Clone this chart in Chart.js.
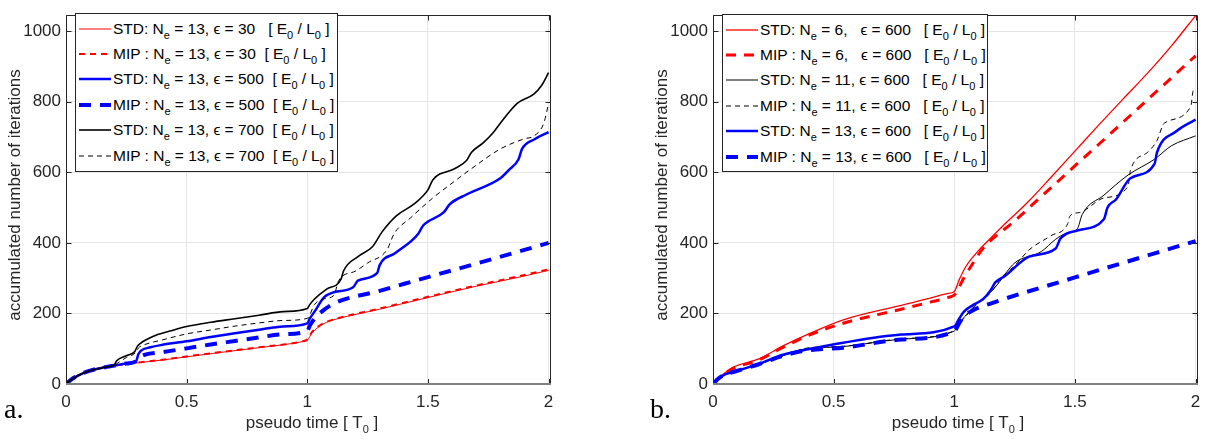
<!DOCTYPE html>
<html>
<head>
<meta charset="utf-8">
<script src="https://cdn.jsdelivr.net/npm/chart.js@4.4.0/dist/chart.umd.min.js"></script>
<style>
  html, body { margin: 0; padding: 0; background: #fff; overflow: hidden; }
  body { width: 1212px; height: 440px; position: relative; font-family: "Liberation Sans", Arial, sans-serif; color: #262626; }
  canvas { position: absolute; top: 0; }
  #cA { left: 0; }
  #cB { left: 647px; }
  .legend { position: absolute; background: #fff; border: 1px solid #262626; box-sizing: border-box; padding-top: 2px; font-size: 15.5px; color: #000; }
  .row { height: 25.4px; display: flex; align-items: center; white-space: pre; }
  .row svg { flex: none; margin: 0 2px 0 3px; }
  sub { font-size: 11px; vertical-align: -5px; line-height: 0; }
  .xtitle { position: absolute; top: 413px; width: 300px; text-align: center; font-size: 17px; line-height: 20px; white-space: pre; }
  .ytitle { position: absolute; top: 185px; width: 400px; height: 20px; line-height: 20px; text-align: center; font-size: 17px; transform: rotate(-90deg); }
  .tag { position: absolute; top: 393px; font-family: "Liberation Serif", "DejaVu Serif", serif; font-size: 28px; color: #000; }
</style>
</head>
<body>
<canvas id="cA" width="606" height="440"></canvas>
<canvas id="cB" width="565" height="440"></canvas>
<script>
// ---- panel a: N_e = 13, varying epsilon ----
const aRedStdT = [0, 0.02, 0.05, 0.1, 0.15, 0.2, 0.4, 0.6, 0.8, 0.98, 1.0, 1.02, 1.05, 1.08, 1.12, 1.3, 1.5, 1.7, 1.9, 2.0];
const aRedStdV = [0, 12, 24, 38, 46, 52, 68, 86, 103, 120, 124, 145, 163, 175, 184, 212, 245, 277, 306, 322];
const aRedMipT = [0, 0.02, 0.05, 0.1, 0.15, 0.2, 0.4, 0.6, 0.8, 0.98, 1.0, 1.02, 1.05, 1.08, 1.12, 1.3, 1.5, 1.7, 1.9, 2.0];
const aRedMipV = [0, 12, 24, 38, 46, 52, 69, 87, 104, 121, 126, 148, 165, 176, 185, 214, 247, 279, 309, 325];
const aBlueStdT = [0, 0.02, 0.05, 0.1, 0.15, 0.2, 0.25, 0.29, 0.3, 0.31, 0.35, 0.4, 0.5, 0.6, 0.7, 0.8, 0.9, 1.0, 1.01, 1.03, 1.07, 1.11, 1.19, 1.21, 1.29, 1.30, 1.365, 1.46, 1.48, 1.565, 1.59, 1.66, 1.80, 1.835, 1.875, 1.89, 1.94, 2.0];
const aBlueStdV = [0, 12, 24, 38, 46, 52, 58, 64, 84, 94, 104, 111, 121, 133, 144, 154, 163, 172, 185, 205, 246, 260, 274, 293, 315, 337, 371, 426, 449, 486, 509, 537, 583, 606, 636, 666, 693, 714];
const aBlueMipT = [0, 0.02, 0.05, 0.1, 0.15, 0.2, 0.25, 0.29, 0.3, 0.31, 0.4, 0.5, 0.6, 0.7, 0.8, 0.9, 1.0, 1.01, 1.03, 1.06, 1.11, 1.3, 1.5, 1.7, 1.9, 2.0];
const aBlueMipV = [0, 12, 24, 38, 46, 52, 58, 64, 72, 78, 90, 101, 112, 122, 132, 141, 150, 165, 185, 205, 228, 264, 303, 341, 380, 400];
const aBlackStdT = [0, 0.02, 0.05, 0.1, 0.15, 0.19, 0.2, 0.21, 0.25, 0.285, 0.295, 0.31, 0.34, 0.38, 0.43, 0.5, 0.6, 0.7, 0.8, 0.9, 1.0, 1.01, 1.03, 1.08, 1.14, 1.15, 1.21, 1.27, 1.31, 1.37, 1.44, 1.50, 1.52, 1.61, 1.66, 1.68, 1.73, 1.77, 1.80, 1.87, 1.94, 1.97, 2.0];
const aBlackStdV = [0, 12, 24, 38, 46, 51, 54, 66, 80, 92, 106, 116, 128, 140, 150, 163, 175, 185, 195, 205, 214, 225, 241, 269, 297, 320, 361, 389, 431, 477, 509, 550, 578, 610, 633, 656, 684, 712, 739, 795, 822, 845, 882];
const aBlackMipT = [0, 0.02, 0.05, 0.1, 0.15, 0.19, 0.2, 0.22, 0.25, 0.29, 0.3, 0.32, 0.4, 0.5, 0.6, 0.7, 0.8, 0.9, 1.0, 1.03, 1.06, 1.11, 1.13, 1.2, 1.25, 1.33, 1.36, 1.43, 1.52, 1.59, 1.68, 1.80, 1.9, 1.94, 1.98, 2.0];
const aBlackMipV = [0, 12, 24, 38, 46, 51, 53, 62, 75, 90, 102, 110, 125, 142, 153, 164, 173, 180, 186, 225, 240, 251, 293, 320, 343, 380, 426, 472, 527, 564, 610, 666, 695, 703, 739, 795];

// ---- panel b: epsilon = 600, varying N_e ----
const bRedStdT = [0, 0.02, 0.05, 0.084, 0.19, 0.29, 0.39, 0.54, 0.78, 0.9, 0.97, 1.0, 1.02, 1.05, 1.1, 1.15, 1.2, 1.3, 1.4, 1.5, 1.6, 1.7, 1.8, 1.9, 2.0];
const bRedStdV = [0, 15, 32, 48, 71, 108, 140, 182, 223, 243, 256, 262, 295, 335, 378, 413, 447, 512, 585, 660, 735, 808, 880, 958, 1044];
const bRedMipT = [0, 0.02, 0.05, 0.084, 0.19, 0.29, 0.39, 0.54, 0.78, 0.9, 0.98, 1.0, 1.02, 1.04, 1.08, 1.12, 1.25, 1.4, 1.6, 1.8, 2.0];
const bRedMipV = [0, 14, 30, 44, 68, 104, 136, 172, 212, 232, 246, 252, 275, 301, 345, 385, 462, 556, 680, 805, 930];
const bBlackStdT = [0, 0.02, 0.05, 0.084, 0.19, 0.29, 0.36, 0.4, 0.54, 0.78, 1.0, 1.02, 1.05, 1.1, 1.15, 1.18, 1.25, 1.36, 1.42, 1.46, 1.51, 1.53, 1.62, 1.72, 1.83, 1.9, 2.0];
const bBlackStdV = [0, 14, 27, 34, 56, 80, 96, 101, 106, 127, 150, 172, 196, 232, 260, 283, 343, 375, 410, 426, 440, 480, 535, 592, 637, 675, 703];
const bBlackMipT = [0, 0.02, 0.05, 0.084, 0.19, 0.29, 0.36, 0.4, 0.54, 0.78, 1.0, 1.02, 1.05, 1.1, 1.15, 1.2, 1.25, 1.31, 1.40, 1.47, 1.48, 1.52, 1.62, 1.72, 1.73, 1.80, 1.84, 1.87, 1.98, 1.99, 2.0];
const bBlackMipV = [0, 14, 27, 34, 56, 80, 97, 103, 107, 128, 151, 170, 194, 230, 258, 305, 335, 380, 420, 454, 477, 486, 527, 560, 605, 656, 690, 739, 786, 832, 838];
const bBlueStdT = [0, 0.02, 0.05, 0.084, 0.19, 0.29, 0.4, 0.54, 0.78, 1.0, 1.02, 1.04, 1.08, 1.12, 1.15, 1.17, 1.21, 1.31, 1.42, 1.44, 1.51, 1.62, 1.635, 1.67, 1.73, 1.83, 1.84, 1.92, 2.0];
const bBlueStdV = [0, 14, 27, 34, 57, 83, 99, 117, 140, 163, 185, 205, 225, 241, 265, 288, 306, 361, 384, 412, 435, 467, 500, 523, 583, 624, 656, 716, 749];
const bBlueMipT = [0, 0.02, 0.05, 0.084, 0.19, 0.29, 0.36, 0.4, 0.54, 0.78, 1.0, 1.02, 1.04, 1.08, 1.15, 1.5, 2.0];
const bBlueMipV = [0, 14, 27, 34, 56, 80, 92, 96, 103, 126, 149, 172, 191, 210, 228, 302, 405];

const xTicks = [0, 0.5, 1, 1.5, 2];
const yTicks = [0, 200, 400, 600, 800, 1000];

const labelsA = [
  'STD: N<sub>e</sub> = 13, \u03f5 = 30   [ E<sub>0</sub> / L<sub>0</sub> ]',
  'MIP : N<sub>e</sub> = 13, \u03f5 = 30  [ E<sub>0</sub> / L<sub>0</sub> ]',
  'STD: N<sub>e</sub> = 13, \u03f5 = 500  [ E<sub>0</sub> / L<sub>0</sub> ]',
  'MIP : N<sub>e</sub> = 13, \u03f5 = 500  [ E<sub>0</sub> / L<sub>0</sub> ]',
  'STD: N<sub>e</sub> = 13, \u03f5 = 700  [ E<sub>0</sub> / L<sub>0</sub> ]',
  'MIP : N<sub>e</sub> = 13, \u03f5 = 700  [ E<sub>0</sub> / L<sub>0</sub> ]'
];
const labelsB = [
  'STD: N<sub>e</sub> = 6,   \u03f5 = 600   [ E<sub>0</sub> / L<sub>0</sub> ]',
  'MIP : N<sub>e</sub> = 6,   \u03f5 = 600   [ E<sub>0</sub> / L<sub>0</sub> ]',
  'STD: N<sub>e</sub> = 11, \u03f5 = 600   [ E<sub>0</sub> / L<sub>0</sub> ]',
  'MIP : N<sub>e</sub> = 11, \u03f5 = 600   [ E<sub>0</sub> / L<sub>0</sub> ]',
  'STD: N<sub>e</sub> = 13, \u03f5 = 600   [ E<sub>0</sub> / L<sub>0</sub> ]',
  'MIP : N<sub>e</sub> = 13, \u03f5 = 600   [ E<sub>0</sub> / L<sub>0</sub> ]'
];

const RED = '#ff0000', BLUE = '#0000ff', BLACK = '#000000';
const FONT = '"Liberation Sans", Arial, sans-serif';

const seriesA = [
  { t: aRedStdT, v: aRedStdV, color: RED, width: 1, dash: [] },
  { t: aRedMipT, v: aRedMipV, color: RED, width: 2, dash: [6, 5] },
  { t: aBlueStdT, v: aBlueStdV, color: BLUE, width: 2.5, dash: [] },
  { t: aBlueMipT, v: aBlueMipV, color: BLUE, width: 4, dash: [12, 9] },
  { t: aBlackStdT, v: aBlackStdV, color: BLACK, width: 1.6, dash: [] },
  { t: aBlackMipT, v: aBlackMipV, color: BLACK, width: 1, dash: [5, 4] }
];
const seriesB = [
  { t: bRedStdT, v: bRedStdV, color: RED, width: 1.3, dash: [] },
  { t: bRedMipT, v: bRedMipV, color: RED, width: 3, dash: [10, 8] },
  { t: bBlackStdT, v: bBlackStdV, color: BLACK, width: 1, dash: [] },
  { t: bBlackMipT, v: bBlackMipV, color: BLACK, width: 1, dash: [5, 4] },
  { t: bBlueStdT, v: bBlueStdV, color: BLUE, width: 2.5, dash: [] },
  { t: bBlueMipT, v: bBlueMipV, color: BLUE, width: 4, dash: [12, 9] }
];

// box around the axes with inward ticks on all four sides (matlab look)
const framePlugin = {
  id: 'frame',
  afterDatasetsDraw(chart) {
    const { ctx, chartArea: a, scales: { x, y } } = chart;
    const L = Math.round(a.left) + 0.5, R = Math.round(a.right) - 0.5;
    const T = Math.round(a.top) + 0.5, B = Math.round(a.bottom);
    ctx.save();
    ctx.strokeStyle = '#262626';
    ctx.lineWidth = 1;
    ctx.beginPath();
    x.ticks.forEach(tk => {
      const px = Math.round(x.getPixelForValue(tk.value)) + 0.5;
      ctx.moveTo(px, B); ctx.lineTo(px, B - 5);
      ctx.moveTo(px, T); ctx.lineTo(px, T + 5);
    });
    y.ticks.forEach(tk => {
      const py = Math.round(y.getPixelForValue(tk.value)) + 0.5;
      ctx.moveTo(L, py); ctx.lineTo(L + 5, py);
      ctx.moveTo(R, py); ctx.lineTo(R - 5, py);
    });
    ctx.moveTo(L, B); ctx.lineTo(L, T); ctx.lineTo(R, T); ctx.lineTo(R, B);
    ctx.stroke();
    ctx.strokeStyle = '#808080';
    ctx.lineWidth = 2;
    ctx.beginPath();
    ctx.moveTo(L - 0.5, B); ctx.lineTo(R + 0.5, B);
    ctx.stroke();
    ctx.restore();
  }
};

function makeChart(id, series, padRight) {
  return new Chart(document.getElementById(id), {
    type: 'line',
    data: {
      datasets: series.map((s, i) => ({
        data: s.t.map((t, k) => ({ x: t, y: s.v[k] })),
        borderColor: s.color,
        borderWidth: s.width,
        borderDash: s.dash,
        pointRadius: 0,
        fill: false,
        cubicInterpolationMode: 'monotone',
        order: series.length - i
      }))
    },
    options: {
      responsive: false,
      animation: false,
      devicePixelRatio: 1,
      layout: { padding: { top: 6, right: padRight, left: 0, bottom: 0 } },
      plugins: { legend: { display: false }, tooltip: { enabled: false } },
      scales: {
        x: {
          type: 'linear', min: 0, max: 2.01,
          afterBuildTicks: s => { s.ticks = xTicks.map(v => ({ value: v })); },
          ticks: { color: '#262626', font: { family: FONT, size: 17 }, padding: 8, maxRotation: 0, callback: v => String(v) },
          grid: { color: '#e6e6e6', drawTicks: false },
          border: { display: false },
          afterFit: s => { s.height = 56; }
        },
        y: {
          type: 'linear', min: 0, max: 1045,
          afterBuildTicks: s => { s.ticks = yTicks.map(v => ({ value: v })); },
          ticks: { color: '#262626', font: { family: FONT, size: 17 }, padding: 5, callback: v => String(v) },
          grid: { color: '#e6e6e6', drawTicks: false },
          border: { display: false },
          afterFit: s => { s.width = 66; }
        }
      }
    },
    plugins: [framePlugin]
  });
}

function makeLegend(series, labels, left, top, width, height) {
  const box = document.createElement('div');
  box.className = 'legend';
  Object.assign(box.style, { left: left + 'px', top: top + 'px', width: width + 'px', height: height + 'px' });
  series.forEach((s, i) => {
    const row = document.createElement('div');
    row.className = 'row';
    const dash = s.dash.length ? ` stroke-dasharray="${s.dash.join(' ')}"` : '';
    row.innerHTML = `<svg width="32" height="10"><line x1="0" y1="5" x2="32" y2="5" stroke="${s.color}" stroke-width="${s.width}"${dash}/></svg><span>${labels[i]}</span>`;
    box.appendChild(row);
  });
  document.body.appendChild(box);
}

function addText(cls, html, left, extra) {
  const d = document.createElement('div');
  d.className = cls;
  d.innerHTML = html;
  d.style.left = left + 'px';
  if (extra) Object.assign(d.style, extra);
  document.body.appendChild(d);
}

makeChart('cA', seriesA, 55);
makeChart('cB', seriesB, 14);
makeLegend(seriesA, labelsA, 75, 13, 263, 159);
makeLegend(seriesB, labelsB, 722, 14, 266, 158);

const xTitle = 'pseudo time [ T<sub>0</sub> ]';
const yTitle = 'accumulated number of iterations';
addText('xtitle', xTitle, 312 - 150);
addText('xtitle', xTitle, 958 - 150);
addText('ytitle', yTitle, 15 - 200);
addText('ytitle', yTitle, 662 - 200);
addText('tag', 'a.', 4);
addText('tag', 'b.', 650);
</script>
</body>
</html>
